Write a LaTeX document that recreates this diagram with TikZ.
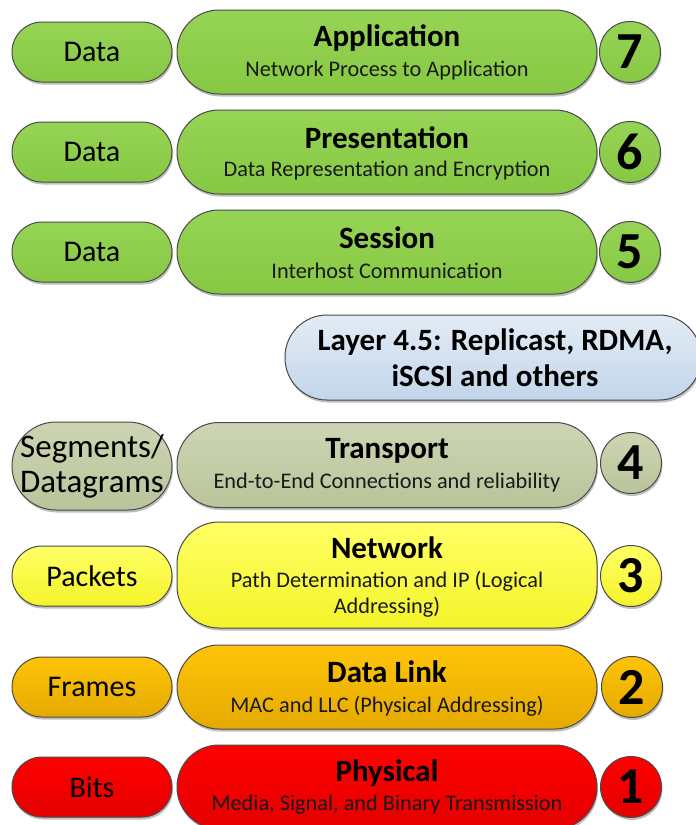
\documentclass[tikz,border=0pt]{standalone}
\usepackage{fontspec}
\setmainfont{Carlito}
\usetikzlibrary{shadows}
\definecolor{grnT}{HTML}{96D455}
\definecolor{grnB}{HTML}{86C843}
\definecolor{olvT}{HTML}{CDD5B3}
\definecolor{olvB}{HTML}{B9C49A}
\definecolor{bluT}{HTML}{E3ECF6}
\definecolor{bluB}{HTML}{C3D5EA}
\definecolor{yelT}{HTML}{FFFF66}
\definecolor{yelB}{HTML}{F4F42A}
\definecolor{golT}{HTML}{FFC408}
\definecolor{golB}{HTML}{E5AA00}
\definecolor{redT}{HTML}{FF0000}
\definecolor{redB}{HTML}{E40000}
\definecolor{edge}{HTML}{4A4A4A}
\tikzset{
  shp/.style={draw=edge, line width=1pt, inner sep=0pt,
    drop shadow={shadow xshift=1pt, shadow yshift=-2.5pt, opacity=0.25, fill=black}},
  sidepill/.style={shp, rectangle, minimum width=160pt, minimum height=60pt, rounded corners=30pt,
    font=\fontsize{30}{32}\selectfont},
  mainpill/.style={shp, rectangle, minimum width=420pt, minimum height=84pt, rounded corners=42pt},
  numcirc/.style={shp, circle, minimum size=61pt, font=\bfseries\fontsize{52}{56}\selectfont},
  ttl/.style={font=\bfseries\fontsize{31}{34}\selectfont, inner sep=0pt},
  sub/.style={font=\fontsize{22.3}{26}\selectfont, inner sep=0pt, text=black!90, align=center},
  grn/.style={top color=grnT, bottom color=grnB},
  olv/.style={top color=olvT, bottom color=olvB},
  blu/.style={top color=bluT, bottom color=bluB},
  yel/.style={top color=yelT, bottom color=yelB},
  gol/.style={top color=golT, bottom color=golB},
  rd/.style={top color=redT, bottom color=redB},
}
\begin{document}
\begin{tikzpicture}[x=1pt,y=-1pt]
\useasboundingbox (0,0) rectangle (696,825);
\clip (0,0) rectangle (696,825);
% Row 7
\node[sidepill,grn] (d7) at (92,52) {Data};
\node[mainpill,grn] (m7) at (387,52) {};
\node[numcirc,grn] (n7) at (630,52) {7};
\node[ttl] (t7) at ([yshift=14pt]m7.center) {Application};
\node[sub] (s7) at ([yshift=-19pt]m7.center) {Network Process to Application};
% Row 6
\node[sidepill,grn] (d6) at (92,152) {Data};
\node[mainpill,grn] (m6) at (387,152) {};
\node[numcirc,grn] (n6) at (630,152) {6};
\node[ttl] (t6) at ([yshift=14pt]m6.center) {Presentation};
\node[sub] (s6) at ([yshift=-19pt]m6.center) {Data Representation and Encryption};
% Row 5
\node[sidepill,grn] (d5) at (92,252) {Data};
\node[mainpill,grn] (m5) at (387,252) {};
\node[numcirc,grn] (n5) at (630,252) {5};
\node[ttl] (t5) at ([yshift=14pt]m5.center) {Session};
\node[sub] (s5) at ([yshift=-19pt]m5.center) {Interhost Communication};
% Layer 4.5
\node[shp,blu,rectangle,minimum width=416pt,minimum height=85pt,rounded corners=42pt] (l45) at (493,357.5) {};
\node[font=\bfseries\fontsize{31}{36}\selectfont, align=center, inner sep=0pt] (l45t) at ([xshift=2pt]l45.center) {Layer 4.5: Replicast, RDMA,\\iSCSI and others};
% Row 4
\node[sidepill,olv,minimum height=88pt,rounded corners=44pt,align=center,font=\fontsize{33}{35}\selectfont] (d4) at (92,466) {Segments/\\Datagrams};
\node[mainpill,olv,minimum height=85pt] (m4) at (387,465) {};
\node[numcirc,olv] (n4) at (631,463) {4};
\node[ttl] (t4) at ([yshift=14pt]m4.center) {Transport};
\node[sub] (s4) at ([yshift=-18pt]m4.center) {End-to-End Connections and reliability};
% Row 3
\node[sidepill,yel] (d3) at (92,576) {Packets};
\node[mainpill,yel,minimum height=106pt] (m3) at (387,575) {};
\node[numcirc,yel] (n3) at (631,576) {3};
\node[ttl] (t3) at ([yshift=27pt]m3.center) {Network};
\node[sub,font=\fontsize{22.3}{26}\selectfont] (s3) at ([yshift=-19pt]m3.center) {Path Determination and IP (Logical\\Addressing)};
% Row 2
\node[sidepill,gol] (d2) at (92,687) {Frames};
\node[mainpill,gol] (m2) at (387,687) {};
\node[numcirc,gol] (n2) at (632,687) {2};
\node[ttl] (t2) at ([yshift=15pt]m2.center) {Data Link};
\node[sub] (s2) at ([yshift=-19pt]m2.center) {MAC and LLC (Physical Addressing)};
% Row 1
\node[sidepill,rd] (d1) at (92,787) {Bits};
\node[mainpill,rd] (m1) at (387,787) {};
\node[numcirc,rd] (n1) at (631,787) {1};
\node[ttl] (t1) at ([yshift=14pt]m1.center) {Physical};
\node[sub] (s1) at ([yshift=-18pt]m1.center) {Media, Signal, and Binary Transmission};
\end{tikzpicture}
\end{document}
